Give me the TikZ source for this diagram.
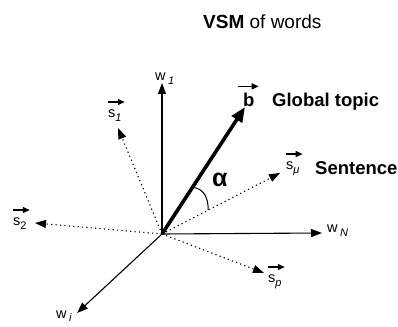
\documentclass[tikz,border=0pt]{standalone}
\usepackage{fontspec}
\setmainfont{Liberation Sans}
\usepackage{tikz}
\usetikzlibrary{
    arrows.meta,
    calc
}
\tikzstyle{axis} = [
    line width=1.1pt,
    -{Triangle[length=11pt,width=8pt]}
]
\tikzstyle{sentvec} = [
    line width=1.1pt,
    dash pattern=on 1.2pt off 3.2pt,
    -{Triangle[length=11pt,width=8pt]}
]
\tikzstyle{topicvec} = [
    line width=3.6pt,
    -{Triangle[length=15pt,width=12pt]}
]
\tikzstyle{overarrow} = [
    line width=1.3pt,
    -{Triangle[length=7pt,width=6pt]}
]
\tikzstyle{lbl} = [
    inner sep=0pt,
    anchor=base west,
    font=\fontsize{14.5}{16}\selectfont
]
\tikzstyle{bigtext} = [
    inner sep=0pt,
    anchor=base west,
    font=\fontsize{18.5}{20}\selectfont\bfseries
]
\newcommand{\subx}[1]{\raisebox{-0.5ex}{\fontsize{11}{12}\selectfont\itshape #1}}

\begin{document}
\begin{tikzpicture}[x=1pt,y=1pt]
\useasboundingbox (0,0) rectangle (398,326);

% origin and vector tips
\coordinate (O)   at (162,92);
\coordinate (w1)  at (162,243);
\coordinate (wN)  at (322,93);
\coordinate (wi)  at (77,13);
\coordinate (b)   at (245,219);
\coordinate (s1)  at (118,198);
\coordinate (s2)  at (35,103);
\coordinate (smu) at (280,153);
\coordinate (sp)  at (264,53);

% title
\node[anchor=base west, inner sep=0pt, font=\fontsize{19}{21}\selectfont] (title) at (203,297) {\textbf{VSM} of words};

% word axes
\draw[axis] (O) -- (w1);
\draw[axis] (O) -- (wN);
\draw[axis] (O) -- (wi);
\node[lbl] (w1lab) at (155,245) {w\,\subx{1}};
\node[lbl] (wNlab) at (327,93)  {w\,\subx{N}};
\node[lbl] (wilab) at (56,8)    {w\,\subx{i}};

% sentence vectors
\draw[sentvec] (O) -- (s1);
\draw[sentvec] (O) -- (s2);
\draw[sentvec] (O) -- (smu);
\draw[sentvec] (O) -- (sp);
\node[lbl] (s1lab)  at (108,208) {s\subx{1}};
\node[lbl] (s2lab)  at (13,100)  {s\raisebox{-0.5ex}{\fontsize{11}{12}\selectfont 2}};
\node[lbl] (smulab) at (286,156) {s\subx{μ}};
\node[lbl] (splab)  at (268,43)  {s\subx{p}};
\foreach \n in {s1lab,s2lab,smulab,splab}
    \draw[overarrow] ([yshift=8pt]\n.north west) -- ([yshift=8pt,xshift=3pt]\n.north east);

% global topic
\draw[topicvec] (O) -- (b);
\node[bigtext] (blab) at (243,219) {b};
\draw[overarrow] ([yshift=7pt,xshift=-5pt]blab.north west) -- ([yshift=7pt,xshift=4pt]blab.north east);
\node[bigtext] (topic) at (272,219) {Global topic};
\node[bigtext] (sent)  at (315,151) {Sentence};

% angle
\coordinate (arcA) at ($(O)!56pt!(b)$);
\coordinate (arcB) at ($(O)!52pt!(smu)$);
\draw[line width=1pt] (arcA) .. controls +(12,-2) and +(0,12) .. (arcB);
\node[anchor=base west, inner sep=0pt, font=\fontsize{25}{27}\selectfont\bfseries] (alpha) at (212,139) {α};
\end{tikzpicture}
\end{document}
